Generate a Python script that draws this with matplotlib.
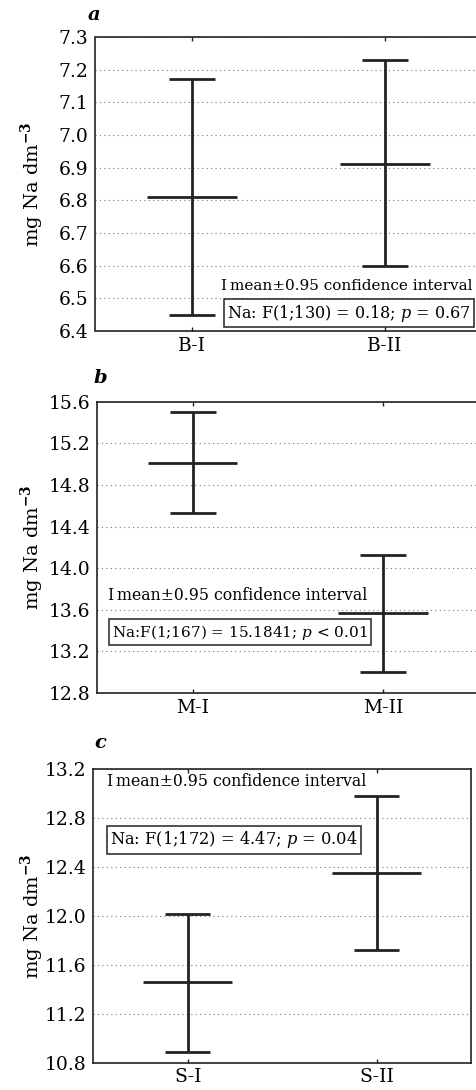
import matplotlib
matplotlib.use("Agg")
import matplotlib.pyplot as plt
import numpy as np

plt.rcParams['font.family'] = ['DejaVu Serif']
plt.rcParams['mathtext.fontset'] = 'dejavuserif'

# Data
cats_a = ["B-I", "B-II"]
mean_a = [6.81, 6.91]
low_a = [6.45, 6.60]
up_a = [7.17, 7.23]
ticks_a = [6.4, 6.5, 6.6, 6.7, 6.8, 6.9, 7.0, 7.1, 7.2, 7.3]
stat_a = r"Na: F(1;130) = 0.18; $\mathit{p}$ = 0.67"

cats_b = ["M-I", "M-II"]
mean_b = [15.01, 13.57]
low_b = [14.53, 13.00]
up_b = [15.50, 14.13]
ticks_b = [12.8, 13.2, 13.6, 14.0, 14.4, 14.8, 15.2, 15.6]
stat_b = r"Na:F(1;167) = 15.1841; $\mathit{p}$ < 0.01"

cats_c = ["S-I", "S-II"]
mean_c = [11.46, 12.35]
low_c = [10.89, 11.72]
up_c = [12.02, 12.98]
ticks_c = [10.8, 11.2, 11.6, 12.0, 12.4, 12.8, 13.2]
stat_c = r"Na: F(1;172) = 4.47; $\mathit{p}$ = 0.04"

legend_txt = "mean±0.95 confidence interval"

W, H = 477, 1090
fig = plt.figure(figsize=(W/100, H/100), dpi=100)

def fx(px):
    return px / W
def fy(py):
    return 1 - py / H

col = '#222222'

def panel(rect, cats, mean, low, up, ticks, fmt, label, labpos, legpos, statpos, stat, statfs, legfs):
    ax = fig.add_axes(rect)
    x = np.arange(len(cats))
    ax.vlines(x, low, up, color=col, lw=2.0)
    ax.hlines(low, x - 0.12, x + 0.12, color=col, lw=2.0)
    ax.hlines(up, x - 0.12, x + 0.12, color=col, lw=2.0)
    ax.hlines(mean, x - 0.235, x + 0.235, color=col, lw=2.0)
    ax.set_xlim(-0.5, len(cats) - 0.5)
    ax.set_ylim(ticks[0], ticks[-1])
    ax.set_yticks(ticks)
    ax.set_yticklabels([fmt.format(t) for t in ticks], fontsize=13.5)
    ax.set_xticks(x)
    ax.set_xticklabels(cats, fontsize=13.5)
    ax.tick_params(axis='x', direction='in', length=3, width=1, top=True, pad=4, colors=col, labelcolor='black')
    ax.tick_params(axis='y', length=0, pad=5)
    ax.yaxis.grid(True, linestyle=(0, (1, 3)), color='#777777', lw=0.8)
    for s in ax.spines.values():
        s.set_color(col)
        s.set_linewidth(1.2)
    ax.set_ylabel(r"mg Na dm$^{\mathbf{-3}}$", fontsize=14)
    ax.yaxis.set_label_coords(-(rect[0] * W - 46) / (rect[2] * W), 0.5)
    fig.text(fx(labpos[0]), fy(labpos[1]), label, fontsize=14, fontweight='bold',
             fontstyle='italic', ha='left', va='center')
    fig.text(fx(legpos[0]), fy(legpos[1]), "I", fontsize=legfs, ha='left', va='center')
    fig.text(fx(legpos[0]) + fx(10), fy(legpos[1]), legend_txt, fontsize=legfs, ha='left', va='center')
    fig.text(fx(statpos[0]), fy(statpos[1]), stat, fontsize=statfs, ha='left', va='center',
             bbox=dict(boxstyle='square,pad=0.2', fc='white', ec=col, lw=1.1))
    return ax

panel([fx(95.5), fy(331), fx(386), 294 / H], cats_a, mean_a, low_a, up_a, ticks_a, "{:.1f}",
      "a", (88, 15), (220, 286), (227, 313), stat_a, 11.5, 11)
panel([fx(97.4), fy(693), fx(381), 291.3 / H], cats_b, mean_b, low_b, up_b, ticks_b, "{:.1f}",
      "b", (94, 378), (107, 595), (112, 632), stat_b, 11, 11.3)
panel([fx(93.2), fy(1062.7), fx(378), 293.4 / H], cats_c, mean_c, low_c, up_c, ticks_c, "{:.1f}",
      "c", (94, 743), (106, 782), (110, 840), stat_c, 11.7, 11.3)

fig.savefig("out.png", dpi=100)
